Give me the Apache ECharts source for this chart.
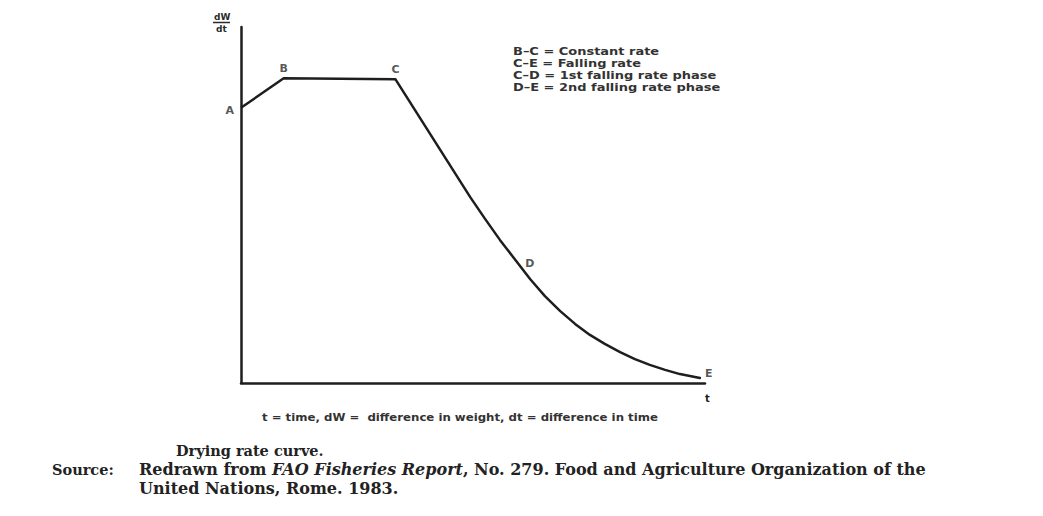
<!DOCTYPE html>
<html>
<head>
<meta charset="utf-8">
<script src="https://cdn.jsdelivr.net/npm/echarts@6/dist/echarts.min.js"></script>
<style>
html,body{margin:0;padding:0;background:#fff;}
#chart{width:1043px;height:516px;}
</style>
</head>
<body>
<div id="chart"></div>
<script>
// ---- data (axes are unitless 0-100) ----
const plateauT    = [0, 9.2, 33.3];
const plateauRate = [77.3, 85.6, 85.3];
// falling-rate part: straight from C, then curving through D to E
const fallingT    = [33.3, 49.4, 52.6, 55.8, 59.1, 62.3, 65.5, 68.8, 72.0, 75.2, 78.4, 81.7, 84.9, 88.1, 91.4, 94.6, 98.9];
const fallingRate = [85.3, 52.2, 46.1, 40.2, 34.6, 29.2, 24.4, 20.2, 16.6, 13.5, 11.0, 8.7, 6.7, 5.1, 3.7, 2.5, 1.4];
const pointLabels = ['A', 'B', 'C', 'D', 'E'];
const pointT      = [0, 9.2, 33.3, 59.1, 98.9];
const pointRate   = [77.3, 85.6, 85.3, 34.6, 1.4];
const legendLines = [
  'B\u2013C = Constant rate',
  'C\u2013E = Falling rate',
  'C\u2013D = 1st falling rate phase',
  'D\u2013E = 2nd falling rate phase'
];
const xAxisName = 't';
const yAxisNameTop = 'dW';
const yAxisNameBottom = 'dt';
const definitionText = 't = time, dW =  difference in weight, dt = difference in time';
const captionTitle = 'Drying rate curve.';
const sourceLabel = 'Source:';
const sourceLine1 = ['Redrawn from ', 'FAO Fisheries Report', ', No. 279. Food and Agriculture Organization of the'];
const sourceLine2 = 'United Nations, Rome. 1983.';

const ink = '#1e1e1e';
const labelPos = {
  A: {position: 'left', distance: 7, offset: [0, 3]},
  B: {position: 'top', distance: 4},
  C: {position: 'top', distance: 4},
  D: {position: 'right', distance: 10, offset: [0, 4]},
  E: {position: 'right', distance: 5, offset: [0, -5]}
};

const chart = echarts.init(document.getElementById('chart'), null, {renderer: 'svg'});

const sansBold = {fontFamily: 'DejaVu Sans', fontWeight: 'bold', fill: '#2a2a2a'};

const graphics = [];
// y-axis name as a fraction dW / dt
graphics.push({type: 'text', left: 214, top: 12, style: Object.assign({text: yAxisNameTop, fontSize: 9}, sansBold)});
graphics.push({type: 'line', shape: {x1: 213, y1: 22.5, x2: 230, y2: 22.5}, style: {stroke: '#2a2a2a', lineWidth: 1.5}});
graphics.push({type: 'text', left: 216, top: 24, style: Object.assign({text: yAxisNameBottom, fontSize: 9}, sansBold)});
// legend block
legendLines.forEach(function (t, i) {
  graphics.push({type: 'text', x: 513, y: 51 + i * 12, scaleX: 1.18,
    style: {text: t, fontSize: 11, fontFamily: 'DejaVu Sans', fontWeight: 'bold', fill: '#333', verticalAlign: 'middle'}});
});
// definitions under the axis
graphics.push({type: 'text', x: 262, y: 418, scaleX: 1.12,
  style: {text: definitionText, fontSize: 10.5, fontFamily: 'DejaVu Sans', fontWeight: 'bold', fill: '#333', verticalAlign: 'middle'}});
// caption
const serif = 'DejaVu Serif';
graphics.push({type: 'text', x: 176, y: 450,
  style: {text: captionTitle, fontSize: 14.5, fontFamily: serif, fontWeight: 'bold', fill: '#222', verticalAlign: 'middle'}});
graphics.push({type: 'text', x: 52, y: 469,
  style: {text: sourceLabel, fontSize: 14.5, fontFamily: serif, fontWeight: 'bold', fill: '#222', verticalAlign: 'middle'}});
graphics.push({type: 'text', x: 139, y: 469,
  style: {
    text: '{n|' + sourceLine1[0] + '}{i|' + sourceLine1[1] + '}{n|' + sourceLine1[2] + '}',
    verticalAlign: 'middle',
    rich: {
      n: {fontSize: 16, fontFamily: serif, fill: '#222', fontWeight: 'bold'},
      i: {fontSize: 16, fontFamily: serif, fill: '#222', fontStyle: 'italic', fontWeight: 'bold'}
    }
  }});
graphics.push({type: 'text', x: 139, y: 488,
  style: {text: sourceLine2, fontSize: 16, fontFamily: serif, fontWeight: 'bold', fill: '#222', verticalAlign: 'middle'}});

chart.setOption({
  backgroundColor: '#ffffff',
  animation: false,
  grid: {left: 241, right: 338, top: 27, bottom: 133, containLabel: false},
  xAxis: {
    type: 'value', min: 0, max: 100,
    name: xAxisName, nameLocation: 'end', nameGap: 0,
    nameTextStyle: {color: ink, fontSize: 10, fontWeight: 'bold', fontFamily: 'DejaVu Sans', verticalAlign: 'top', padding: [10, 0, 0, 0]},
    axisLine: {show: true, lineStyle: {color: ink, width: 2.5}},
    axisTick: {show: false}, axisLabel: {show: false}, splitLine: {show: false}
  },
  yAxis: {
    type: 'value', min: 0, max: 100,
    axisLine: {show: true, lineStyle: {color: ink, width: 2.5}},
    axisTick: {show: false}, axisLabel: {show: false}, splitLine: {show: false}
  },
  series: [
    {
      type: 'line', name: 'constant rate', symbol: 'none',
      data: plateauT.map(function (t, i) { return [t, plateauRate[i]]; }),
      lineStyle: {color: ink, width: 2.5, join: 'round'}
    },
    {
      type: 'line', name: 'falling rate', symbol: 'none',
      data: fallingT.map(function (t, i) { return [t, fallingRate[i]]; }),
      lineStyle: {color: ink, width: 2.5, cap: 'round', join: 'round'}
    },
    {
      type: 'scatter', name: 'points', symbolSize: 0, silent: true,
      data: pointLabels.map(function (n, i) {
        const p = labelPos[n];
        return {
          value: [pointT[i], pointRate[i]], name: n,
          label: {show: true, formatter: n, position: p.position, distance: p.distance, offset: p.offset || [0, 0],
            color: '#2a2a2a', fontSize: 11, fontWeight: 'bold', fontFamily: 'DejaVu Sans'}
        };
      })
    }
  ],
  graphic: graphics
});
</script>
</body>
</html>
